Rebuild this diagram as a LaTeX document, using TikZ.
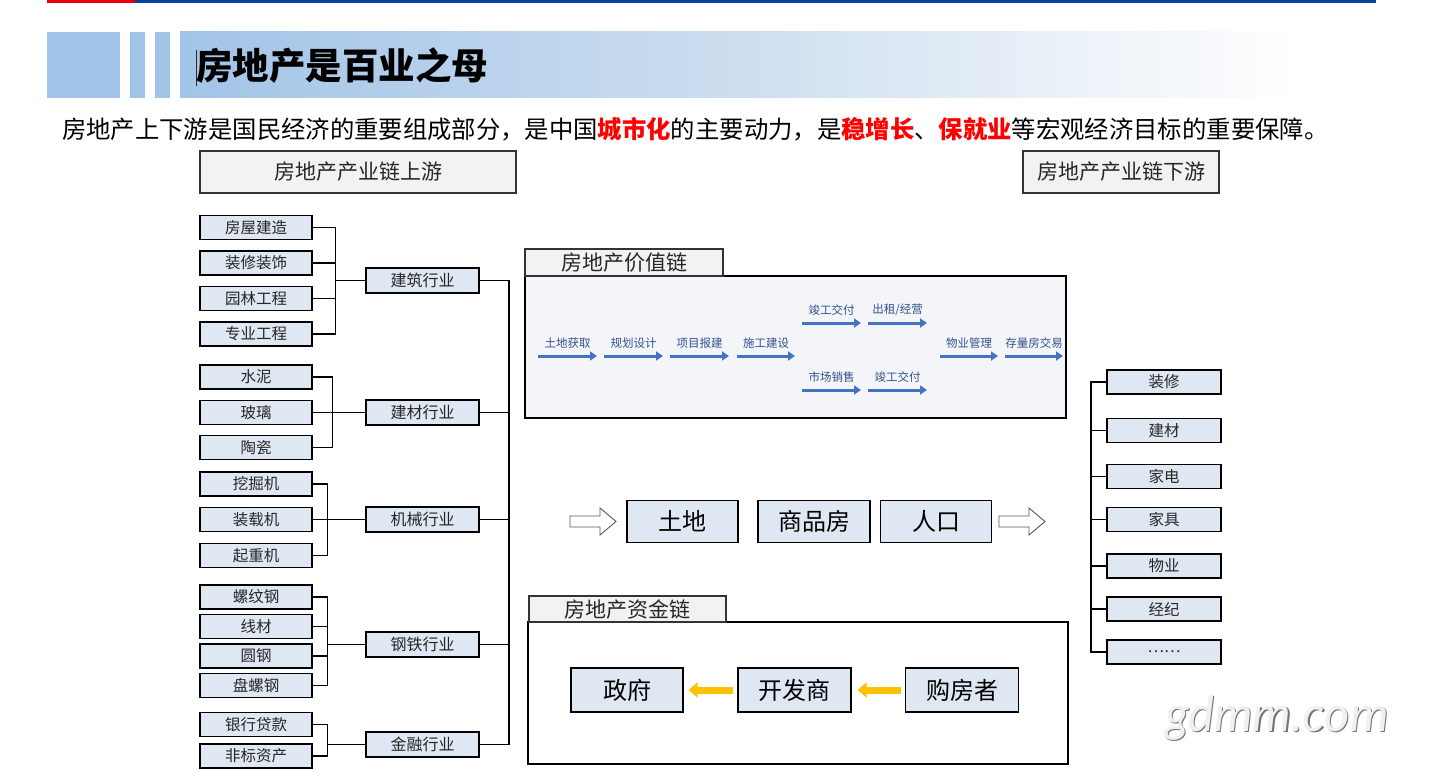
\documentclass[tikz,border=0pt]{standalone}
\usepackage{fontspec}
\setmainfont{Noto Sans CJK SC}
\newfontfamily\wmfont{Lato}
\usetikzlibrary{arrows.meta,calc}
\definecolor{barblue}{HTML}{00449E}
\definecolor{barred}{HTML}{E60012}
\definecolor{bannerblue}{HTML}{A2C4E8}
\definecolor{bannermid}{HTML}{CCDDEF}
\definecolor{leaffill}{HTML}{DFE7F2}
\definecolor{headfill}{HTML}{F2F2F2}
\definecolor{chainfill}{HTML}{F3F5F9}
\definecolor{vcblue}{HTML}{4472C4}
\definecolor{vctext}{HTML}{34508C}
\definecolor{gold}{HTML}{FFC000}
\definecolor{keyred}{HTML}{FF0000}
\newcommand{\fs}[1]{\fontsize{#1}{#1}\selectfont}
\tikzset{
  x=1pt, y=-1pt,
  leaf/.style={draw=black, line width=1.1, fill=leaffill, minimum width=112, minimum height=24, inner sep=0, font=\fs{15.5}, text=black!85},
  mid/.style={draw=black, line width=1.1, fill=leaffill, minimum width=113, minimum height=25, inner sep=0, font=\fs{16}, text=black!85},
  down/.style={draw=black, line width=1.1, fill=leaffill, minimum width=114, minimum height=24, inner sep=0, font=\fs{15.5}, text=black!85},
  headbox/.style={draw=black!80, line width=1.2, fill=headfill, inner sep=0, font=\fs{21}, text=black!85},
  bigbox/.style={draw=black, line width=1.2, fill=leaffill, minimum width=111, minimum height=42, inner sep=0, font=\fs{24}},
  link/.style={draw=black, line width=1.1},
  barrow/.style={draw=vcblue, line width=3, -{Triangle[length=7,width=9]}},
  vclabel/.style={font=\fs{11.5}, text=vctext, inner sep=0},
  yarrow/.style={draw=gold, line width=7, -{Triangle[length=9,width=15]}},
  hollow/.style={draw=black!65, line width=0.9, fill=white},
}
\begin{document}
\begin{tikzpicture}
\useasboundingbox (0,0) rectangle (1437,781);
\fill[white] (0,0) rectangle (1437,781);
% top bar
\fill[barred] (47,0) rectangle (135,3.5);
\fill[barblue] (135,0) rectangle (1376,3.5);
% banner
\fill[bannerblue] (47,32) rectangle (120,98);
\fill[bannerblue] (130,32) rectangle (145,98);
\fill[bannerblue] (155,32) rectangle (170,98);
\shade[left color=bannerblue, right color=bannermid] (180,32) rectangle (720,98);
\shade[left color=bannermid, right color=white] (720,32) rectangle (1300,98);
\draw[black!70!brown, line width=0.8] (196,50) -- (196,86);
\node[anchor=west, inner sep=0, font=\fs{36.5}\bfseries] (title) at (196,66) {房地产是百业之母};
% subtitle
\node[anchor=west, inner sep=0, font=\fs{24.35}] (sub) at (62,129)
  {房地产上下游是国民经济的重要组成部分，是中国{\bfseries\color{keyred}城市化}的主要动力，是{\bfseries\color{keyred}稳增长}、{\bfseries\color{keyred}保就业}等宏观经济目标的重要保障。};
% headers
\node[headbox, minimum width=316, minimum height=42] (up) at (358,172) {房地产产业链上游};
\node[headbox, minimum width=196, minimum height=42] (dn) at (1121,172) {房地产产业链下游};
% leaves
\node[leaf] (L1) at (256,227.5) {房屋建造};
\node[leaf] (L2) at (256,263) {装修装饰};
\node[leaf] (L3) at (256,298.5) {园林工程};
\node[leaf] (L4) at (256,334) {专业工程};
\node[leaf] (L5) at (256,377) {水泥};
\node[leaf] (L6) at (256,412.5) {玻璃};
\node[leaf] (L7) at (256,447.5) {陶瓷};
\node[leaf] (L8) at (256,484) {挖掘机};
\node[leaf] (L9) at (256,519.5) {装载机};
\node[leaf] (L10) at (256,555.5) {起重机};
\node[leaf] (L11) at (256,597) {螺纹钢};
\node[leaf] (L12) at (256,626.5) {线材};
\node[leaf] (L13) at (256,656) {圆钢};
\node[leaf] (L14) at (256,685.5) {盘螺钢};
\node[leaf] (L15) at (256,724.5) {银行贷款};
\node[leaf] (L16) at (256,756) {非标资产};
% middle
\node[mid] (M1) at (422.5,280.5) {建筑行业};
\node[mid] (M2) at (422.5,412.5) {建材行业};
\node[mid] (M3) at (422.5,519.5) {机械行业};
\node[mid] (M4) at (422.5,644.5) {钢铁行业};
\node[mid] (M5) at (422.5,744.5) {金融行业};
% brackets
\draw[link] (M1.west) -- ++(-30,0) coordinate (b1);
\foreach \i in {1,2,3,4} \draw[link] (L\i.east) -| (b1);
\draw[link] (M2.west) -- ++(-33,0) coordinate (b2);
\foreach \i in {5,6,7} \draw[link] (L\i.east) -| (b2);
\draw[link] (M3.west) -- ++(-38,0) coordinate (b3);
\foreach \i in {8,9,10} \draw[link] (L\i.east) -| (b3);
\draw[link] (M4.west) -- ++(-38,0) coordinate (b4);
\foreach \i in {11,12,13,14} \draw[link] (L\i.east) -| (b4);
\draw[link] (M5.west) -- ++(-38,0) coordinate (b5);
\foreach \i in {15,16} \draw[link] (L\i.east) -| (b5);
% trunk
\coordinate (tb) at (509,744.5);
\draw[link] (M1.east) -| (tb) -- (M5.east);
\foreach \i in {2,3,4} \draw[link] (M\i.east) -- (M\i.east -| tb);
% value chain
\node[draw=black, line width=1.2, fill=chainfill, minimum width=541, minimum height=142, inner sep=0] (vc) at (795.5,347) {};
\node[headbox, minimum width=198, minimum height=27] (vch) at (624,262.5) {房地产价值链};
\draw[barrow] (538,356) -- node[vclabel, above=6] {土地获取} (597,356);
\draw[barrow] (604,356) -- node[vclabel, above=6] {规划设计} (663,356);
\draw[barrow] (670,356) -- node[vclabel, above=6] {项目报建} (729,356);
\draw[barrow] (737,356) -- node[vclabel, above=6] {施工建设} (795,356);
\draw[barrow] (802,323) -- node[vclabel, above=6] {竣工交付} (861,323);
\draw[barrow] (868,323) -- node[vclabel, above=6] {出租/经营} (927,323);
\draw[barrow] (802,390) -- node[vclabel, above=6] {市场销售} (861,390);
\draw[barrow] (868,390) -- node[vclabel, above=6] {竣工交付} (927,390);
\draw[barrow] (940,356) -- node[vclabel, above=6] {物业管理} (998,356);
\draw[barrow] (1005,356) -- node[vclabel, above=6] {存量房交易} (1063,356);
% middle row
\node[bigbox] (land) at (682.5,521.5) {土地};
\node[bigbox, minimum width=112] (house) at (814,521.5) {商品房};
\node[bigbox] (pop) at (936,521.5) {人口};
\draw[hollow] (570,516) -- (600,516) -- (600,508) -- (616,521.5) -- (600,535) -- (600,527) -- (570,527) -- cycle;
\draw[hollow] (999,516) -- (1029,516) -- (1029,508) -- (1045,521.5) -- (1029,535) -- (1029,527) -- (999,527) -- cycle;
% fund chain
\node[draw=black, line width=1.2, fill=white, minimum width=540, minimum height=142, inner sep=0] (fc) at (798,693) {};
\node[headbox, minimum width=197, minimum height=26] (fch) at (627.5,609) {房地产资金链};
\node[bigbox, minimum width=112, minimum height=44] (gov) at (627,690) {政府};
\node[bigbox, minimum width=113, minimum height=44] (dev) at (794.5,690) {开发商};
\node[bigbox, minimum width=113, minimum height=44] (buy) at (962,690) {购房者};
\draw[yarrow] ([xshift=-4]dev.west) -- ([xshift=5]gov.east);
\draw[yarrow] ([xshift=-4]buy.west) -- ([xshift=6]dev.east);
% downstream
\node[down] (D1) at (1164,382) {装修};
\node[down] (D2) at (1164,430.5) {建材};
\node[down] (D3) at (1164,476.5) {家电};
\node[down] (D4) at (1164,519.5) {家具};
\node[down] (D5) at (1164,566) {物业};
\node[down] (D6) at (1164,609) {经纪};
\node[down] (D7) at (1164,652) {……};
\coordinate (dt) at (1091,652);
\draw[link] (D1.west) -| (dt) -- (D7.west);
\foreach \i in {2,3,4,5,6} \draw[link] (D\i.west) -- (D\i.west -| dt);
% watermark
\node[font=\wmfont\itshape\fs{49}, text=black!55, inner sep=0] at (1278.2,719.2) {gdmm.com};
\node[font=\wmfont\itshape\fs{49}, text=black!6, inner sep=0] (wm) at (1277,718) {gdmm.com};
\end{tikzpicture}
\end{document}
